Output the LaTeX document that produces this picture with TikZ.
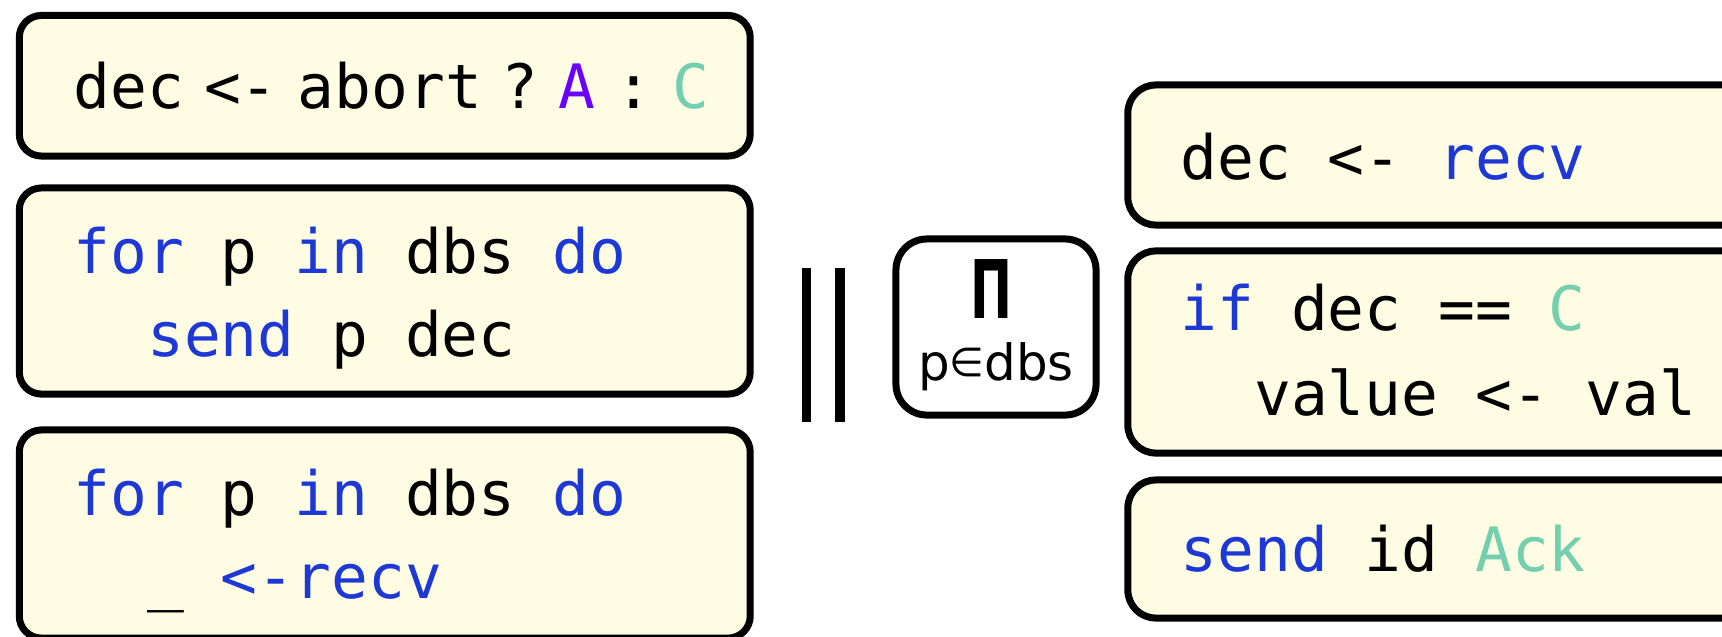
\documentclass[tikz,border=0pt]{standalone}
\usepackage{fontspec}
\newfontfamily\codefont{DejaVu Sans Mono}
\newfontfamily\symfont{DejaVu Sans}
\newfontfamily\symbold{DejaVu Sans Bold}
\definecolor{kwblue}{RGB}{30,56,214}
\definecolor{ctorpurple}{RGB}{106,0,255}
\definecolor{ctorteal}{RGB}{116,207,174}
\definecolor{boxfill}{RGB}{254,253,228}
\tikzset{
  codebox/.style={draw=black, line width=0.07cm, fill=boxfill, rounded corners=0.22cm,
    inner sep=0pt, outer sep=0pt, rectangle},
  rcodebox/.style={codebox, rounded corners=0.28cm},
  pibox/.style={draw=black, line width=0.07cm, fill=white, rounded corners=0.31cm,
    inner sep=0pt, outer sep=0pt, rectangle, minimum width=2cm, minimum height=1.76cm},
  parbar/.style={fill=black, inner sep=0pt, outer sep=0pt, rectangle,
    minimum width=0.095cm, minimum height=1.54cm},
  code/.style={anchor=base west, inner sep=0pt, outer sep=0pt,
    font=\codefont\fontsize{17.4pt}{20pt}\selectfont}
}
\newcommand{\kwd}[1]{\textcolor{kwblue}{#1}}
\newcommand{\gap}{\hspace{0.2cm}}
\begin{document}
\begin{tikzpicture}[x=0.01cm,y=-0.01cm]
\useasboundingbox (0,0) rectangle (1722,636);
% left boxes
\node[codebox, minimum width=7.305cm, minimum height=1.405cm] (b1) at (384.75,85.75) {};
\node[codebox, minimum width=7.305cm, minimum height=2.06cm] (b2) at (384.75,291) {};
\node[codebox, minimum width=7.305cm, minimum height=2.08cm] (b3) at (384.75,534) {};
% right boxes
\node[rcodebox, minimum width=6.22cm, minimum height=1.40cm] (b4) at (1439,155) {};
\node[rcodebox, minimum width=6.22cm, minimum height=2.02cm] (b5) at (1439,352) {};
\node[rcodebox, minimum width=6.22cm, minimum height=1.38cm] (b6) at (1439,549) {};
% parallel bars
\node[parbar] (par1) at (806.5,345) {};
\node[parbar] (par2) at (840,345) {};
% product box
\node[pibox] (pi) at (996,327) {};
\node[anchor=base, inner sep=0pt, font=\symbold\fontsize{23pt}{26pt}\selectfont] (pisym) at (991,318) {\scalebox{0.62}[1]{Π}};
\node[anchor=base, inner sep=0pt, font=\symfont\fontsize{14.2pt}{16pt}\selectfont] (pisub) at (996,380) {p\raisebox{0.04cm}{\scalebox{0.8}{∈}}dbs};
% texts left
\node[code] (t1) at (73.5,108) {dec\gap<-\gap abort\gap?\gap\textcolor{ctorpurple}{A}\gap:\gap\textcolor{ctorteal}{C}};
\node[code] (t2a) at (73.5,273) {\kwd{for} p \kwd{in} dbs \kwd{do}};
\node[code] (t2b) at (73.5,356) {\phantom{xx}\kwd{send} p dec};
\node[code] (t3a) at (73.5,515) {\kwd{for} p \kwd{in} dbs \kwd{do}};
\node[code] (t3b) at (73.5,598) {\phantom{xx}\_ \kwd{<-recv}};
% texts right
\node[code] (t4) at (1180.5,179) {dec <- \kwd{recv}};
\node[code] (t5a) at (1180.5,330) {\kwd{if} dec == \textcolor{ctorteal}{C}};
\node[code] (t5b) at (1180.5,415) {\phantom{xx}value <- val};
\node[code] (t6) at (1180.5,571) {\kwd{send} id \textcolor{ctorteal}{Ack}};
\end{tikzpicture}
\end{document}
